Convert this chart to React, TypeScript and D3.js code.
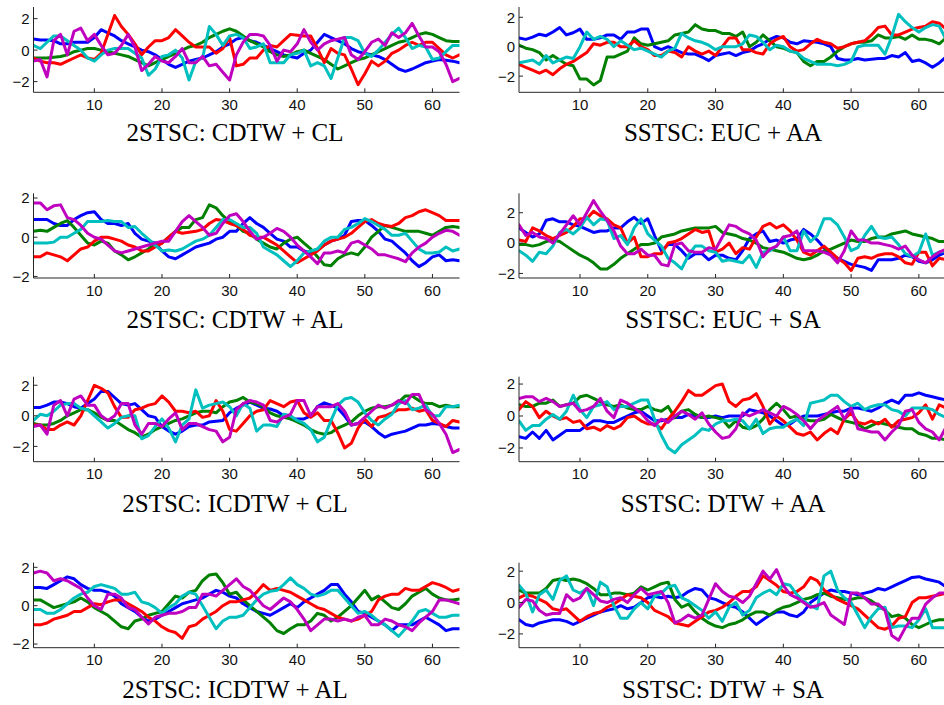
import React from "react";
import * as d3 from "d3";

const X = d3.range(1, 65);
const xTicks = [10, 20, 30, 40, 50, 60];
const yTicks = [-2, 0, 2];
const titles = [
  "2STSC: CDTW + CL", "SSTSC: EUC + AA",
  "2STSC: CDTW + AL", "SSTSC: EUC + SA",
  "2STSC: ICDTW + CL", "SSTSC: DTW + AA",
  "2STSC: ICDTW + AL", "SSTSC: DTW + SA",
];
const yDomains = [
  [-2.68, 2.74], [-3.1, 2.7],
  [-2.08, 2.24], [-2.3, 3.28],
  [-3.0, 2.56], [-2.86, 2.46],
  [-2.19, 2.24], [-2.88, 2.54],
];
const seriesColors = ["#0000ff", "#008000", "#ff0000", "#00bfbf", "#bf00bf"];

// Panel 1: 2STSC: CDTW + CL
const p1Blue = [0.7,0.65,0.65,0.6,0.4,0.4,0.5,0.5,0.5,0.8, 1.3,1.1,0.9,0.6,0.4,0.2,0.0,-0.1,-0.3,-0.6, -0.9,-1.1,-0.9,-0.7,-0.6,-0.5,-0.3,-0.1,0.2,0.4, 0.7,0.8,0.6,0.5,0.3,0.1,-0.1,-0.3,-0.4,-0.5, -0.2,0.0,0.5,1.0,0.8,0.6,0.4,0.1,-0.1,-0.2, -0.3,-0.4,-0.6,-0.9,-1.2,-1.35,-1.2,-1.0,-0.8,-0.7, -0.6,-0.65,-0.7,-0.8];
const p1Green = [-0.5,-0.5,-0.5,-0.45,-0.4,-0.3,-0.1,0.0,0.1,0.1, 0.0,-0.1,-0.2,-0.3,-0.4,-0.6,-0.8,-1.0,-0.8,-0.6, -0.4,-0.2,0.0,0.2,0.3,0.5,0.8,1.0,1.2,1.35, 1.2,0.9,0.6,0.4,0.2,-0.1,-0.3,-0.4,-0.3,-0.1, 0.0,-0.2,-0.4,-0.6,-0.9,-1.2,-1.0,-0.8,-0.6,-0.5, -0.3,-0.1,0.1,0.3,0.5,0.6,0.8,1.0,1.1,1.0, 0.8,0.6,0.55,0.55];
const p1Red = [-0.5,-0.7,-0.8,-0.8,-0.9,-0.7,-0.5,-0.3,-0.5,-0.6, -0.2,1.0,2.2,1.5,1.0,0.4,-0.3,0.2,0.6,0.6, 0.8,1.3,0.9,0.5,0.2,0.2,0.2,-0.2,0.1,0.8, -1.0,-0.9,-0.5,-0.5,0.0,0.3,0.2,0.6,1.0,0.95, 0.9,0.9,0.1,-0.8,0.1,-0.2,-0.3,-1.2,-2.2,-1.5, -0.7,-1.0,-0.7,-0.2,0.0,0.3,0.5,0.3,0.5,0.5, 0.1,-0.3,-0.5,-0.3];
const p1Cyan = [0.3,0.1,0.5,0.9,0.9,0.6,0.3,0.0,-0.5,-0.7, -0.3,0.0,0.1,0.1,0.1,-0.2,-0.5,-1.6,-1.2,-0.4, -0.3,0.0,-0.5,-1.9,-0.7,-0.5,1.5,1.0,0.3,0.9, 1.0,0.8,0.1,0.2,0.4,-0.8,-0.8,-0.8,-0.3,-0.2, 0.0,-1.0,-0.8,-1.0,-1.8,-0.5,0.8,0.8,0.6,-0.2, -0.4,0.0,0.5,1.0,1.4,0.8,0.1,0.3,0.2,-0.6, -0.5,-0.1,0.3,0.3];
const p1Magenta = [-0.7,-0.6,-1.7,0.6,1.0,-0.3,1.2,1.4,0.6,1.0, 0.3,-0.3,-0.2,0.3,1.0,0.2,-1.3,-0.9,-0.4,-0.7, -0.8,-0.4,0.1,-0.8,-0.8,-0.4,-1.0,-0.9,-1.4,-1.9, -0.3,0.5,1.0,1.0,0.9,0.3,-0.7,0.0,-0.1,0.4, 1.3,0.5,0.0,0.4,0.6,0.7,0.8,-0.3,-0.6,-0.1, 0.5,0.7,0.3,1.1,0.8,1.1,1.7,0.9,0.2,0.2, -0.1,-0.9,-2.0,-1.8];

// Panel 2: SSTSC: EUC + AA
const p2Blue = [0.6,0.5,0.65,0.85,0.75,1.0,1.3,0.8,0.95,1.2, 0.5,0.5,0.6,0.8,0.8,0.5,1.0,1.0,1.2,1.2, 0.0,-0.2,0.0,-0.2,-0.4,-0.5,-0.5,-0.7,-0.95,-0.6, -0.5,-0.4,-0.6,-0.4,-0.3,0.0,0.2,0.5,0.7,0.6, 0.3,0.2,0.4,0.35,0.3,0.2,0.0,-0.8,-0.9,-0.9, -0.8,-0.9,-0.85,-0.8,-0.8,-0.6,-0.7,-0.4,-1.0,-0.9, -1.1,-1.4,-1.1,-0.7];
const p2Green = [0.1,-0.1,-0.2,-0.4,-0.9,-0.6,-0.9,-1.2,-1.3,-2.2, -2.2,-2.6,-2.3,-0.7,-0.7,-0.5,-0.3,0.6,0.2,0.1, 0.2,0.3,0.4,0.8,0.9,1.0,1.5,1.2,1.1,1.1, 0.9,0.9,0.7,1.0,0.0,0.3,0.8,0.4,0.0,-0.1, -0.3,-0.4,-1.0,-1.3,-1.0,-1.0,-0.7,-0.3,0.0,0.2, 0.3,0.3,0.4,0.8,0.6,0.6,0.7,0.5,0.8,0.5, 0.5,0.4,0.2,0.6];
const p2Red = [-1.2,-1.4,-1.6,-1.8,-1.6,-1.9,-1.5,-1.2,-1.0,-0.7, -0.4,0.2,0.1,0.3,0.3,0.0,0.0,0.4,0.0,-0.2, -0.6,-0.6,-0.3,-0.4,-0.7,0.0,-0.3,-0.5,-0.3,-0.6, 0.0,0.6,0.6,-0.2,-0.2,-0.4,-0.5,0.2,0.5,0.7, 0.0,-0.3,-0.2,0.2,0.5,0.3,0.2,-0.1,0.0,0.2, 0.3,0.4,0.8,1.3,1.4,0.8,0.8,1.0,1.2,1.3, 1.4,1.7,1.6,1.2];
const p2Cyan = [-1.1,-1.0,-0.9,-1.2,-0.6,-1.1,-0.9,-0.7,-0.8,0.0, 1.0,0.5,0.7,0.5,0.0,0.4,0.1,-0.2,-0.1,-0.3, -0.5,-0.7,-0.3,-0.1,0.9,0.6,0.4,0.3,0.1,-0.2, 0.0,0.0,0.0,0.2,0.8,0.7,0.3,-0.2,0.1,0.0, -0.3,-0.4,-0.8,-1.0,-1.2,-1.2,-1.2,-1.3,-1.2,-1.0, 0.0,0.1,0.1,0.1,-0.5,0.7,2.2,1.7,1.3,1.0, 1.3,1.5,1.4,0.5];

// Panel 3: 2STSC: CDTW + AL
const p3Blue = [0.9,0.9,0.9,0.7,0.6,0.6,0.9,1.1,1.25,1.3, 0.9,0.7,0.7,0.6,0.7,0.2,-0.1,-0.2,-0.3,-0.7, -1.0,-1.1,-0.9,-0.7,-0.5,-0.4,-0.3,-0.1,0.0,0.3, 0.3,0.7,1.0,0.7,0.5,0.2,-0.1,-0.2,-0.5,-0.5, -0.7,-0.8,-0.6,-0.4,-0.2,-0.1,0.1,0.8,0.85,0.85, 0.6,0.3,-0.1,-0.2,-0.5,-0.8,-1.2,-1.5,-1.3,-1.0, -0.9,-1.2,-1.15,-1.2];
const p3Green = [0.3,0.35,0.3,0.5,0.7,0.85,0.5,0.1,-0.3,-0.4, -0.2,-0.3,-0.7,-0.9,-1.15,-1.0,-0.8,-0.6,-0.3,-0.3, 0.0,0.3,0.5,0.5,0.9,1.0,1.65,1.5,1.1,0.8, 0.6,0.3,0.2,-0.1,-0.3,-0.5,-0.6,-0.3,-0.1,0.0, -0.3,-0.6,-1.0,-1.4,-1.45,-1.1,-0.9,-0.8,-0.9,-0.5, 0.0,0.3,0.6,0.5,0.4,0.3,0.3,0.3,0.2,0.1, 0.3,0.5,0.55,0.5];
const p3Red = [-1.0,-1.0,-0.8,-0.9,-1.0,-1.2,-0.9,-0.6,-0.5,-0.2, 0.0,0.0,-0.1,-0.2,-0.4,-0.5,-0.7,-0.7,-0.5,-0.3, 0.0,0.3,0.2,0.25,0.3,0.4,0.7,0.9,0.85,0.7, 0.6,0.4,0.1,0.0,0.0,-0.2,-0.4,-0.7,-1.0,-1.3, -1.1,-0.9,-0.7,-0.4,-0.2,-0.1,0.0,0.2,0.5,0.8, 0.9,0.7,0.6,0.55,0.7,1.0,1.1,1.3,1.4,1.25, 1.1,0.85,0.85,0.85];
const p3Cyan = [-0.3,-0.3,-0.3,-0.25,0.0,0.0,0.2,0.4,0.8,0.8, 0.8,0.85,0.8,0.8,0.5,0.55,0.2,-0.1,-0.4,-0.7, -0.65,-0.7,-0.6,-0.4,-0.2,-0.1,0.1,0.5,0.9,0.9, 0.7,0.5,0.5,0.2,-0.5,-0.7,-0.9,-1.2,-1.5,-1.2, -0.8,-0.7,-0.6,-0.2,0.0,0.0,0.4,0.5,0.7,0.95, 0.8,0.6,0.4,0.1,0.1,0.2,-0.2,-0.6,-0.8,-0.8, -0.75,-0.5,-0.7,-0.6];
const p3Magenta = [1.75,1.75,1.4,1.6,1.65,1.0,0.9,0.6,0.2,0.0, -0.1,-0.4,-0.7,-0.8,-0.7,-0.6,-0.5,-0.4,-0.3,-0.2, -0.2,0.3,0.8,1.1,0.8,0.5,0.1,0.2,0.7,1.1, 1.2,0.8,0.3,-0.1,0.0,0.2,0.45,0.3,0.0,-0.4, -0.7,-1.0,-1.35,-0.8,-0.8,-0.7,-0.8,-0.3,-0.2,-0.4, -0.6,-0.9,-0.9,-1.0,-1.1,-1.25,-0.8,-0.5,-0.3,0.0, 0.2,0.35,0.3,0.1];

// Panel 4: SSTSC: EUC + SA
const p4Blue = [1.0,0.7,0.4,0.6,1.5,1.6,1.4,1.4,1.2,1.1, 0.9,0.7,0.8,0.8,1.0,1.0,1.4,1.7,1.3,1.6, 0.5,-0.5,-0.1,-0.1,-0.5,-1.0,-0.7,-0.7,-1.1,-0.8, -0.8,-1.0,-1.1,-0.5,0.3,0.6,0.8,0.1,0.2,0.0, 0.2,0.3,0.9,0.6,0.2,-0.3,-0.7,-1.0,-1.2,-1.4, -1.5,-1.6,-1.8,-1.1,-1.1,-1.1,-1.0,-0.8,-0.9,-1.2, -1.3,-1.1,-0.8,-0.6];
const p4Green = [-0.1,-0.1,-0.2,-0.1,0.1,0.2,0.1,-0.2,-0.5,-0.8, -1.0,-1.3,-1.7,-1.7,-1.4,-1.0,-0.7,-0.4,-0.1,-0.1, 0.0,0.4,0.5,0.6,0.8,0.9,1.0,1.0,1.0,1.1, 0.7,0.6,0.5,0.3,0.2,0.0,-0.3,-0.4,-0.5,-0.6, -0.8,-1.0,-1.1,-1.0,-0.8,-0.5,-0.4,-0.2,0.0,0.2, 0.1,0.1,0.3,0.4,0.4,0.6,0.7,0.8,0.6,0.5, 0.4,0.3,0.1,0.1];
const p4Red = [0.2,0.1,1.0,0.8,0.5,0.3,0.5,0.7,1.1,1.6, 1.6,2.1,1.8,1.6,1.2,1.0,0.0,0.4,-0.9,-0.9, -0.7,-0.7,0.0,0.1,0.3,0.6,0.9,0.7,0.8,-0.6, -0.4,0.0,-0.7,-0.3,-0.4,0.4,1.1,1.3,1.0,1.2, 0.8,0.2,-0.6,-0.8,-0.5,-0.2,-0.6,-1.0,-1.3,-1.8, -1.0,-0.9,-1.0,-0.8,-0.7,-0.7,-0.9,-1.3,-1.4,-0.6, -0.6,-1.5,-1.0,-1.1];
const p4Cyan = [-0.5,-0.8,-1.2,-0.6,-0.7,-0.2,0.7,0.9,0.6,1.0, 1.7,1.2,1.6,1.5,0.3,0.5,-0.1,1.0,1.6,0.6, 0.2,-0.2,-1.0,-1.3,-1.7,-0.8,-0.2,-0.2,-0.5,-0.6, -1.2,-1.1,-1.2,-1.3,-0.8,-1.6,-0.6,-0.5,-0.2,0.4, -0.5,-0.5,0.8,0.1,0.5,1.6,1.6,1.2,0.4,-0.5, -0.3,0.5,1.1,0.4,0.3,0.4,-0.1,-0.7,-0.9,-0.6, 0.6,-0.8,-0.6,-0.5];
const p4Magenta = [1.2,0.5,0.7,0.4,0.3,0.0,0.6,1.2,1.8,1.2, 2.0,2.8,2.1,1.5,0.8,-0.2,-0.7,-0.7,-0.4,-0.8, -0.8,-1.4,-1.5,-0.1,0.0,-0.5,-0.6,-0.6,-0.3,-0.4, 0.4,1.2,1.1,0.8,0.6,0.2,-0.9,-0.4,-0.2,0.4, 0.5,0.8,-0.5,-0.5,-0.5,-0.6,-0.8,-1.3,-0.5,0.8, 0.2,0.2,0.0,0.0,-0.1,-0.2,-0.4,-0.2,-0.8,-1.1, -1.3,-0.9,-0.6,-0.4];

// Panel 5: 2STSC: ICDTW + CL
const p5Blue = [0.55,0.55,0.7,0.9,0.9,0.8,0.6,0.5,0.8,1.1, 1.6,1.6,1.2,0.8,0.7,0.8,0.4,0.0,-0.1,-0.7, -1.0,-1.2,-1.0,-0.7,-0.6,-0.6,-0.4,-0.35,-0.3,0.2, 0.5,0.7,0.9,0.7,0.5,0.45,0.3,0.0,-0.2,-0.2, -0.2,0.0,0.6,0.85,0.7,0.5,0.0,-0.6,-0.5,-0.4, -0.7,-1.1,-1.4,-1.2,-1.1,-1.0,-0.8,-0.6,-0.6,-0.5, -0.55,-0.7,-0.8,-0.8];
const p5Green = [-0.5,-0.6,-0.6,-0.5,-0.3,0.0,0.2,0.4,0.4,0.2, -0.1,-0.3,-0.3,-0.6,-0.9,-1.1,-1.4,-1.2,-0.9,-0.7, -0.5,-0.3,-0.2,0.0,0.2,0.3,0.3,0.2,0.6,0.9, 1.0,1.2,0.9,0.8,0.6,0.2,0.0,-0.1,-0.2,-0.4, -0.6,-0.9,-1.1,-1.2,-1.1,-0.8,-0.6,-0.4,0.0,0.3, 0.5,0.6,0.6,0.7,0.9,1.3,1.3,1.0,0.8,0.8, 0.6,0.7,0.6,0.6];
const p5Red = [-0.6,-0.6,-0.9,-0.9,-0.6,-0.4,-0.6,0.0,1.0,2.0, 1.8,1.5,0.6,-0.1,-0.1,0.4,0.5,0.7,0.8,1.3, 0.9,0.3,0.3,0.2,0.3,-0.1,0.0,1.0,0.3,-0.9, -1.0,-0.5,0.0,0.3,0.4,1.0,0.8,0.6,0.9,1.0, 0.2,-0.1,0.2,-0.3,-0.3,-1.1,-2.1,-1.8,-0.8,-0.2, -0.7,-0.1,0.0,0.2,0.4,0.4,0.5,0.3,0.4,-0.3, -0.5,-0.7,-0.3,-0.4];
const p5Cyan = [-0.3,0.1,0.0,0.3,0.7,0.8,0.8,0.5,0.4,0.0, -0.4,-0.8,-0.5,-0.1,0.0,0.0,-1.5,-1.3,-0.7,-0.2, -0.8,-1.7,-0.6,-0.2,1.7,0.5,0.7,0.8,0.9,0.6, 0.0,0.8,0.5,-1.0,-0.6,-0.6,-0.7,0.1,0.0,-0.3, -0.5,-0.9,-1.7,-1.4,-0.3,0.7,1.1,1.2,0.9,0.2, -0.3,-0.6,-0.2,0.1,0.8,1.0,0.4,0.5,0.7,0.0, 0.0,0.6,0.6,0.7];
const p5Magenta = [-0.7,-0.6,-1.2,0.7,1.0,0.0,1.1,1.3,0.7,0.7, 0.0,-0.3,0.0,0.8,0.8,-0.6,-1.2,-0.5,-0.5,-0.7, -0.2,0.2,-0.9,-0.5,-0.5,-0.7,-0.9,-1.0,-1.7,-1.4, 0.4,0.8,1.0,0.9,0.7,-0.3,-0.4,-0.1,0.1,1.0, 1.0,0.0,0.6,0.6,0.6,0.8,0.3,-0.6,-0.5,-0.1, 0.3,0.7,0.5,0.7,1.0,0.8,1.4,1.4,0.4,0.1, -0.5,-1.2,-2.4,-2.2];

// Panel 6: SSTSC: DTW + AA
const p6Blue = [-1.3,-1.4,-1.0,-1.4,-0.9,-1.5,-1.2,-0.9,-0.9,-0.9, -0.6,-0.3,-0.3,-0.4,-0.4,-0.2,0.0,0.2,0.3,0.0, -0.3,-0.3,-0.2,-0.1,-0.1,0.1,0.0,-0.1,-0.1,0.0, -0.1,0.0,0.0,0.0,0.4,0.3,0.2,0.0,-0.3,-0.6, -0.5,-0.2,0.0,0.0,0.0,0.1,0.2,0.3,0.3,0.5, 0.5,0.4,0.3,0.5,0.8,1.0,0.8,1.3,1.3,1.45, 1.3,1.2,1.1,1.0];
const p6Green = [0.7,0.6,0.6,0.8,0.8,1.0,0.6,0.7,0.8,1.2, 1.3,1.1,0.9,0.7,0.6,0.7,0.5,0.4,0.4,0.6, 0.4,0.3,0.6,-0.1,0.3,0.4,0.1,-0.1,0.0,-0.1, -0.2,-0.7,-0.3,-0.7,-0.8,-0.6,-0.2,0.4,0.8,0.4, -0.1,0.0,-0.2,-0.3,-0.3,-0.2,0.1,-0.1,-0.3,-0.4, -0.5,-0.8,-0.6,-0.4,-0.5,-0.6,-0.7,-0.8,-0.8,-1.1, -1.2,-1.4,-1.4,-1.5];
const p6Red = [0.4,0.9,0.6,-0.1,0.3,0.0,-0.2,-0.1,-0.4,-0.3, -0.8,-0.7,-0.9,-0.6,-0.8,-0.6,-0.1,0.0,-0.3,-0.5, -0.5,-0.8,-0.2,0.3,0.9,1.6,1.3,1.3,1.6,1.9, 2.0,0.9,0.6,1.0,1.1,1.4,0.6,-0.5,0.0,-0.3, -0.7,-1.1,-1.2,-1.0,-1.5,-1.1,-0.8,-1.1,-0.2,0.2, -0.4,-0.5,-0.3,-0.5,-0.2,-0.7,-0.3,-0.2,-0.1,0.2, 0.7,-0.2,0.7,0.5];
const p6Cyan = [-0.3,-0.9,-0.6,-0.6,-0.2,0.1,-0.2,0.3,1.3,0.4, -0.1,0.6,0.7,0.9,0.4,0.6,0.6,0.8,1.0,1.0, -0.2,-1.2,-2.0,-2.3,-1.8,-1.5,-1.2,-0.8,-0.9,-0.5, -0.3,-0.3,-0.2,-0.3,-0.8,-0.2,-1.1,-0.8,-0.7,-0.7, -0.4,-0.2,-0.6,0.8,0.9,1.0,1.3,1.3,0.9,0.6, 0.8,0.4,0.6,0.7,0.7,0.4,0.3,0.0,0.5,0.5, 0.5,0.4,0.1,-0.1];
const p6Magenta = [1.1,1.2,1.2,0.9,1.1,0.9,0.6,0.7,0.8,0.3, 0.4,0.6,1.1,0.3,-0.1,1.0,0.8,0.5,0.2,-0.3, -0.6,-0.2,-0.4,0.0,0.3,0.1,-0.2,0.2,-0.5,-1.0, -1.4,-1.3,-0.8,0.2,0.0,0.2,0.4,0.2,0.0,0.6, 0.4,0.1,-0.3,-0.8,-0.3,0.0,0.3,0.6,-0.2,0.5, -0.8,-0.9,-1.0,-1.0,-1.5,-1.0,-0.6,0.3,0.4,-0.4, -0.8,-1.0,-1.5,-0.7];

// Panel 7: 2STSC: ICDTW + AL
const p7Blue = [0.95,0.95,0.9,1.1,1.3,1.5,1.4,1.1,0.9,0.8, 0.8,0.7,0.5,0.1,-0.1,-0.3,-0.6,-0.8,-0.7,-0.5, -0.3,-0.1,0.1,0.2,0.3,0.4,0.6,0.8,0.7,0.5, 0.4,0.1,-0.1,-0.3,-0.4,-0.5,-0.3,-0.1,0.1,-0.1, 0.2,0.4,0.6,0.8,1.1,1.1,0.6,0.2,-0.3,-0.4, -0.6,-0.8,-1.0,-1.3,-1.0,-1.0,-1.0,-0.8,-0.6,-0.8, -1.0,-1.3,-1.2,-1.2];
const p7Green = [0.3,0.3,0.1,-0.1,0.0,0.1,0.2,0.4,0.2,-0.1, -0.3,-0.5,-0.8,-1.1,-1.2,-0.8,-0.7,-0.5,-0.4,-0.3, 0.1,0.5,0.4,0.7,0.8,1.3,1.6,1.65,1.2,0.6, 0.7,0.3,0.0,-0.3,-0.6,-0.9,-1.3,-1.45,-1.2,-1.0, -1.0,-0.8,-0.4,-0.5,-0.8,-0.6,-0.3,0.0,0.4,0.8, 0.3,0.5,0.2,-0.1,-0.2,0.1,0.5,0.7,0.9,0.6, 0.4,0.3,0.3,0.35];
const p7Red = [-1.0,-1.0,-0.9,-0.7,-0.6,-0.5,-0.3,-0.3,-0.1,0.1, 0.05,0.2,0.3,0.3,0.1,-0.1,-0.3,-0.6,-0.8,-1.1, -1.3,-1.4,-1.7,-1.1,-1.0,-0.7,-0.5,-0.3,0.0,0.2, 0.2,0.3,0.4,0.7,1.1,0.8,0.9,0.8,0.7,0.5, 0.3,0.1,-0.1,-0.2,-0.4,-0.6,-0.7,-0.8,-0.7,-0.5, -0.3,0.3,0.5,0.6,0.6,0.9,0.8,0.8,1.0,1.2, 1.1,0.95,0.75,0.85];
const p7Cyan = [-0.2,-0.2,-0.4,-0.4,-0.2,0.1,0.4,0.6,0.7,1.0, 1.1,1.0,0.9,0.6,0.6,0.7,0.2,0.1,-0.1,-0.4, -0.1,0.1,0.5,0.7,0.6,0.0,-0.6,-1.2,-0.8,-0.6, -0.6,-0.5,-0.1,0.3,0.6,0.75,0.8,1.1,1.45,1.1, 0.9,0.6,0.5,0.6,0.8,0.8,0.4,0.0,-0.4,-0.3, -0.5,-0.8,-1.0,-1.3,-1.6,-1.2,-0.8,-0.3,-0.2,-0.4, -0.6,-0.6,-0.5,-0.5];
const p7Magenta = [1.7,1.8,1.7,1.3,1.4,1.3,1.1,0.9,0.4,0.0, -0.2,0.6,0.6,0.4,-0.1,-0.2,-0.6,-0.95,-0.6,-0.5, -0.4,-0.4,-0.3,-0.1,-0.1,0.6,0.6,0.5,0.8,1.1, 1.4,1.0,0.8,0.4,0.0,-0.2,0.1,0.4,0.2,-0.2, -0.7,-1.3,-1.0,-0.7,-0.7,-0.8,-0.7,-0.8,-0.6,-0.5, -1.0,-1.0,-0.7,-0.8,-1.0,-1.1,-1.3,-0.9,-0.6,-0.3, 0.3,0.3,0.2,0.1];

// Panel 8: SSTSC: DTW + SA
const p8Blue = [-1.1,-1.4,-1.5,-1.3,-1.2,-1.1,-1.1,-1.2,-1.4,-1.2, -1.0,-0.8,-0.6,-0.5,-0.4,-0.2,-0.4,-0.3,0.0,0.3, 0.4,0.3,0.4,0.3,0.4,0.7,0.9,0.8,0.3,0.2, 0.0,-0.2,-0.3,-0.6,-1.0,-1.4,-1.1,-0.8,-0.6,-0.6, -0.8,-0.9,-0.6,0.0,0.3,0.6,0.8,0.7,0.7,0.6, 0.5,0.6,0.7,0.9,0.8,1.0,1.2,1.4,1.6,1.65, 1.5,1.4,1.3,1.0];
const p8Green = [0.8,0.6,0.6,0.6,0.9,1.4,1.5,1.4,1.5,1.4, 1.2,0.9,0.5,0.5,0.6,0.6,0.5,0.6,1.0,0.8, 1.0,1.2,1.3,0.2,-0.3,-0.1,-0.6,-1.0,-1.3,-1.5, -1.6,-1.4,-1.3,-1.1,-0.8,-0.6,-0.6,-0.8,-0.5,-0.3, -0.2,0.0,0.2,0.3,0.5,0.6,0.4,0.3,0.2,0.2, 0.3,0.3,0.1,-0.2,-0.5,-0.9,-0.8,-1.0,-1.4,-1.6, -1.4,-1.2,-1.1,-1.1];
const p8Red = [0.3,0.5,0.4,0.2,0.0,-0.4,-0.5,-0.4,-0.8,-1.2, -0.9,-0.7,-0.6,-0.3,-0.1,0.2,0.5,0.4,0.3,0.0, -0.5,-0.7,-0.9,-1.3,-1.4,-1.5,-1.2,-0.9,-0.6,-0.5, -0.3,0.0,0.4,0.7,0.7,1.0,1.7,1.4,1.1,0.7, 0.6,0.7,1.0,1.6,1.4,0.8,0.5,0.2,0.0,-0.2, -0.4,-0.8,-1.2,-1.6,-1.7,-1.5,-1.0,-0.9,0.0,0.3, 0.3,0.4,0.5,0.6];
const p8Cyan = [1.1,0.6,-0.6,0.5,0.8,0.2,1.4,1.7,0.8,0.6, 0.9,-0.2,1.3,1.0,-0.2,-1.0,-1.0,-0.4,0.0,-0.4, 0.4,0.6,1.0,1.1,0.3,0.1,-0.2,-0.5,-1.0,-0.6, -1.2,-0.3,0.0,-0.8,-0.5,0.3,0.6,0.8,0.5,1.2, 1.1,0.5,0.1,-0.2,-0.4,1.7,2.0,0.8,0.3,0.0, -0.8,-1.6,-0.9,-0.4,-0.3,-1.6,-1.5,-1.5,-1.6,-1.1, -0.4,-1.6,-1.6,-1.6];
const p8Magenta = [-0.3,0.2,0.1,-0.5,-0.8,-0.7,-0.7,0.5,0.1,0.3, 0.9,0.5,0.1,0.0,0.2,0.3,0.0,0.5,0.9,0.5, 0.6,0.7,0.0,-1.3,-1.1,-0.8,-1.0,-0.8,0.2,1.2, 0.7,0.4,0.3,0.0,0.4,1.2,2.0,1.5,2.1,1.1, 0.5,0.3,0.0,-0.3,-0.2,0.0,-0.8,-1.1,-1.4,0.6, 0.6,0.3,-0.1,-0.1,-0.5,-2.1,-2.4,-1.6,-1.0,-1.0, -0.1,0.3,0.6,0.6];

// series per panel, in drawing order: blue, green, red, cyan, magenta
const panelSeries: (number[] | null)[][] = [
  [p1Blue, p1Green, p1Red, p1Cyan, p1Magenta],
  [p2Blue, p2Green, p2Red, p2Cyan, null],
  [p3Blue, p3Green, p3Red, p3Cyan, p3Magenta],
  [p4Blue, p4Green, p4Red, p4Cyan, p4Magenta],
  [p5Blue, p5Green, p5Red, p5Cyan, p5Magenta],
  [p6Blue, p6Green, p6Red, p6Cyan, p6Magenta],
  [p7Blue, p7Green, p7Red, p7Cyan, p7Magenta],
  [p8Blue, p8Green, p8Red, p8Cyan, p8Magenta],
];

const W = 944;
const H = 705;
const colX = [
  { x0: 33.5, x1: 459.5, titleX: 235 },
  { x0: 519, x1: 946, titleX: 723 },
];
const rowY = [
  { top: 7, bottom: 92.3, titleY: 141 },
  { top: 193.3, bottom: 278, titleY: 328 },
  { top: 376.7, bottom: 461.7, titleY: 512 },
  { top: 562.7, bottom: 647.7, titleY: 698 },
];

const axisColor = "#262626";
const sans = "'Liberation Sans', Arial, Helvetica, sans-serif";
const serif = "'Liberation Serif', 'Times New Roman', serif";
const fmt = d3.format("d");

function Panel({ idx }: { idx: number }) {
  const col = colX[idx % 2];
  const row = rowY[Math.floor(idx / 2)];
  const x = d3.scaleLinear().domain([1, 64]).range([col.x0, col.x1]);
  const y = d3.scaleLinear().domain(yDomains[idx]).range([row.bottom, row.top]);
  const line = d3
    .line<number>()
    .x((_, i) => x(X[i]))
    .y((d) => y(d));
  const clipId = `clip-${idx}`;
  return (
    <g>
      <defs>
        <clipPath id={clipId}>
          <rect x={col.x0} y={row.top - 2} width={col.x1 - col.x0} height={row.bottom - row.top + 4} />
        </clipPath>
      </defs>
      <g clipPath={`url(#${clipId})`}>
        {panelSeries[idx].map((s, k) =>
          s ? (
            <path
              key={k}
              d={line(s) || ""}
              fill="none"
              stroke={seriesColors[k]}
              strokeWidth={3}
              strokeLinejoin="round"
              strokeLinecap="round"
            />
          ) : null
        )}
      </g>
      {/* axes */}
      <line x1={col.x0} x2={col.x1} y1={row.bottom} y2={row.bottom} stroke={axisColor} strokeWidth={1} />
      <line x1={col.x0} x2={col.x0} y1={row.top} y2={row.bottom} stroke={axisColor} strokeWidth={1} />
      {xTicks.map((t) => (
        <g key={`xt${t}`}>
          <line x1={x(t)} x2={x(t)} y1={row.bottom} y2={row.bottom - 4} stroke={axisColor} strokeWidth={1} />
          <text
            x={x(t)}
            y={row.bottom + 17.5}
            textAnchor="middle"
            fontFamily={sans}
            fontSize={15}
            fill="#111"
          >
            {fmt(t)}
          </text>
        </g>
      ))}
      {yTicks.map((t) => (
        <g key={`yt${t}`}>
          <line x1={col.x0} x2={col.x0 + 4} y1={y(t)} y2={y(t)} stroke={axisColor} strokeWidth={1} />
          <text
            x={col.x0 - 4}
            y={y(t)}
            dy="0.36em"
            textAnchor="end"
            fontFamily={sans}
            fontSize={15}
            fill="#111"
          >
            {fmt(t)}
          </text>
        </g>
      ))}
      <text
        x={col.titleX}
        y={row.titleY}
        textAnchor="middle"
        fontFamily={serif}
        fontSize={25}
        fill="#000"
      >
        {titles[idx]}
      </text>
    </g>
  );
}

export default function App() {
  React.useEffect(() => {
    document.body.style.margin = "0";
  }, []);
  return (
    <svg
      width={W}
      height={H}
      viewBox={`0 0 ${W} ${H}`}
      style={{ display: "block", position: "absolute", left: 0, top: 0, background: "#fff" }}
    >
      <rect x={0} y={0} width={W} height={H} fill="#fff" />
      {titles.map((_, i) => (
        <Panel key={i} idx={i} />
      ))}
    </svg>
  );
}
